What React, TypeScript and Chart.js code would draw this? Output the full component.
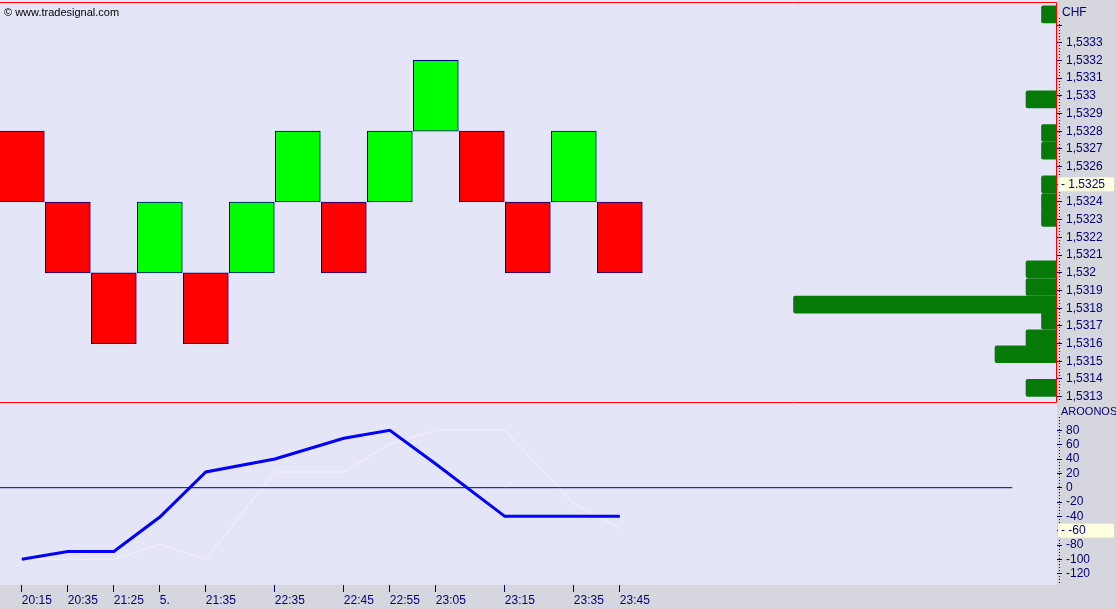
import React, { useEffect, useRef } from 'react';
import Chart from 'chart.js/auto';

// renko bricks (one per slot on the time axis)
const brickLow = [1.5324, 1.532, 1.5316, 1.532, 1.5316, 1.532, 1.5324, 1.532, 1.5324, 1.5328, 1.5324, 1.532, 1.5324, 1.532];
const brickUp = [false, false, false, true, false, true, true, false, true, true, false, false, true, false];
const brickSize = 0.0004;

// volume profile on the right side
const profilePrice = [1.53346, 1.53298, 1.53279, 1.53269, 1.5325, 1.5324, 1.53231, 1.53202, 1.53192, 1.53182, 1.53173, 1.53163, 1.53154, 1.53135];
const profileVolume = [1, 2, 1, 1, 1, 1, 1, 2, 2, 17, 1, 2, 4, 2];

// time axis
const timeLabels = ['20:15', '20:35', '21:25', '5.', '21:35', '22:35', '22:45', '22:55', '23:05', '23:15', '23:35', '23:45'];
const labelSlot = [0, 1, 2, 3, 4, 5.5, 7, 8, 9, 10.5, 12, 13];

// aroon oscillator and its faint companion line
const aroonOsc = [-100, -89, -89, -41, 22, 40, 69, 80, 33, -40, -40, -40];
const aroonShadow = [-100, -100, -100, -79, -100, 22, 22, 61, 80, 80, -22, -57];
const zeroLine = [{ x: -0.5, y: 0 }, { x: 21.53, y: 0 }];

const lastPrice = 1.5325;
const markedAroon = -60;

const X_MIN = -0.474;
const X_MAX = 22.504;
const NAVY = '#000070';
const GRAY = '#D5D6DE';
const PLOT_BG = '#E4E6F8';
const FAMILY = "'Liberation Sans', Arial, sans-serif";
const FONT = `12px ${FAMILY}`;

const fmtPrice = (v: number) => String(Math.round(v * 1e4) / 1e4).replace('.', ',');

// no automatic label padding, the panels have to line up
const noPad = (s: any) => {
  s.paddingTop = 0;
  s.paddingBottom = 0;
  s.paddingLeft = 0;
  s.paddingRight = 0;
};

const panelPlugin = (highlight: { value: number; text: string }, redFrame: boolean) => ({
  id: 'panel',
  beforeDraw(chart: any) {
    const { ctx, chartArea: a, width, height } = chart;
    ctx.save();
    ctx.fillStyle = GRAY;
    ctx.fillRect(0, 0, width, height);
    ctx.fillStyle = PLOT_BG;
    ctx.fillRect(a.left, redFrame ? 0 : a.top, a.right - a.left, a.bottom - (redFrame ? 0 : a.top));
    ctx.restore();
  },
  afterDraw(chart: any) {
    const { ctx, chartArea: a } = chart;
    ctx.save();
    // dotted axis column
    ctx.strokeStyle = NAVY;
    ctx.lineWidth = 1;
    ctx.setLineDash([1, 2]);
    ctx.beginPath();
    ctx.moveTo(a.right + 2.5, a.top + (redFrame ? 16 : 14));
    ctx.lineTo(a.right + 2.5, a.bottom);
    ctx.stroke();
    ctx.setLineDash([]);
    if (redFrame) {
      ctx.strokeStyle = '#FF0000';
      ctx.beginPath();
      ctx.moveTo(0, a.top + 0.5);
      ctx.lineTo(a.right - 0.5, a.top + 0.5);
      ctx.lineTo(a.right - 0.5, a.bottom + 0.5);
      ctx.lineTo(0, a.bottom + 0.5);
      ctx.stroke();
    }
    const y = chart.scales.y.getPixelForValue(highlight.value);
    ctx.fillStyle = '#FFFFE0';
    ctx.fillRect(a.right + 1, y - 7, 56, 14);
    ctx.fillStyle = NAVY;
    ctx.font = FONT;
    ctx.textBaseline = 'middle';
    ctx.fillText(highlight.text, a.right + 4, y);
    ctx.restore();
  },
});

const App: React.FC = () => {
  const priceRef = useRef<HTMLCanvasElement>(null);
  const aroonRef = useRef<HTMLCanvasElement>(null);

  useEffect(() => {
    document.body.style.margin = '0';
    const charts: Chart[] = [];

    if (priceRef.current) {
      charts.push(new Chart(priceRef.current, {
        type: 'bar',
        data: {
          datasets: [
            {
              data: brickLow.map((lo, i) => ({ x: i, y: [lo, lo + brickSize] })) as any,
              xAxisID: 'x',
              yAxisID: 'y',
              backgroundColor: brickUp.map(u => (u ? '#00FF00' : '#FF0000')),
              borderColor: '#000080',
              borderWidth: 1,
              borderSkipped: false,
              barThickness: 45,
              grouped: false,
            },
            {
              data: profilePrice.map((p, i) => ({ x: profileVolume[i], y: p })) as any,
              indexAxis: 'y',
              xAxisID: 'xv',
              yAxisID: 'y',
              backgroundColor: '#067A06',
              borderWidth: 0,
              borderRadius: 2,
              borderSkipped: false,
              barThickness: 17,
              grouped: false,
            } as any,
          ],
        },
        options: {
          responsive: false,
          animation: false,
          layout: { padding: { top: 2, bottom: 1, left: 0, right: 0 }, autoPadding: false },
          plugins: { legend: { display: false }, tooltip: { enabled: false } },
          scales: {
            x: { type: 'linear', min: X_MIN, max: X_MAX, offset: false, display: false },
            xv: { type: 'linear', axis: 'x', min: 0, max: 68.2, reverse: true, offset: false, beginAtZero: false, display: false } as any,
            y: {
              type: 'linear',
              position: 'right',
              min: 1.53127,
              max: 1.53353,
              offset: false,
              afterFit: (s: any) => { s.width = 59; noPad(s); },
              grid: { drawOnChartArea: false, drawTicks: true, tickLength: 5, color: NAVY, offset: false },
              border: { display: false },
              ticks: {
                stepSize: 0.0001,
                includeBounds: false,
                autoSkip: false,
                padding: 4,
                color: NAVY,
                font: { family: FAMILY, size: 12 },
                callback: (v: any) => (v > 1.53345 ? null : v > 1.53335 ? '' : fmtPrice(v)),
              },
            },
          },
        },
        plugins: [panelPlugin({ value: lastPrice, text: '- 1.5325' }, true)],
      }));
    }

    if (aroonRef.current) {
      charts.push(new Chart(aroonRef.current, {
        type: 'line',
        data: {
          datasets: [
            {
              data: labelSlot.map((x, i) => ({ x, y: aroonOsc[i] })),
              borderColor: '#0000FF',
              borderWidth: 3,
              pointRadius: 0,
              tension: 0,
            },
            {
              data: zeroLine,
              borderColor: '#000080',
              borderWidth: 1,
              pointRadius: 0,
            },
            {
              data: labelSlot.map((x, i) => ({ x, y: aroonShadow[i] })),
              borderColor: '#F1ECF9',
              borderWidth: 1.5,
              pointRadius: 0,
              tension: 0,
            },
          ],
        },
        options: {
          responsive: false,
          animation: false,
          layout: { padding: 0, autoPadding: false },
          plugins: { legend: { display: false }, tooltip: { enabled: false } },
          scales: {
            x: {
              type: 'linear',
              min: X_MIN,
              max: X_MAX,
              offset: false,
              afterFit: (s: any) => { s.height = 24; noPad(s); },
              afterBuildTicks: (s: any) => { s.ticks = labelSlot.map(v => ({ value: v })); },
              grid: { drawOnChartArea: false, drawTicks: true, tickLength: 7, color: NAVY },
              border: { display: false },
              ticks: {
                autoSkip: false,
                maxRotation: 0,
                align: 'start',
                padding: 1,
                color: NAVY,
                font: { family: FAMILY, size: 12 },
                callback: (_v: any, i: number) => timeLabels[i],
              },
            },
            y: {
              type: 'linear',
              position: 'right',
              min: -135.8,
              max: 118.2,
              offset: false,
              afterFit: (s: any) => { s.width = 59; noPad(s); },
              grid: { drawOnChartArea: false, drawTicks: true, tickLength: 5, color: NAVY },
              border: { display: false },
              ticks: {
                stepSize: 20,
                includeBounds: false,
                autoSkip: false,
                padding: 4,
                color: NAVY,
                font: { family: FAMILY, size: 12 },
                callback: (v: any) => (v > 80 ? null : String(v)),
              },
            },
          },
        },
        plugins: [panelPlugin({ value: markedAroon, text: '- -60' }, false)],
      }));
    }

    return () => {
      charts.forEach(c => c.destroy());
    };
  }, []);

  const label: React.CSSProperties = { position: 'absolute', fontFamily: FAMILY, whiteSpace: 'nowrap' };

  return (
    <div style={{ position: 'absolute', left: 0, top: 0, width: 1116, height: 609, background: GRAY, overflow: 'hidden' }}>
      <canvas ref={priceRef} width={1116} height={403} style={{ position: 'absolute', left: 0, top: 0 }} />
      <canvas ref={aroonRef} width={1116} height={206} style={{ position: 'absolute', left: 0, top: 403 }} />
      <div style={{ ...label, left: 4, top: 6, fontSize: 11, color: '#000' }}>© www.tradesignal.com</div>
      <div style={{ ...label, left: 1062, top: 5, fontSize: 12, color: NAVY }}>CHF</div>
      <div style={{ ...label, left: 1061, top: 405, fontSize: 11, color: NAVY }}>AROONOS</div>
    </div>
  );
};

export default App;
